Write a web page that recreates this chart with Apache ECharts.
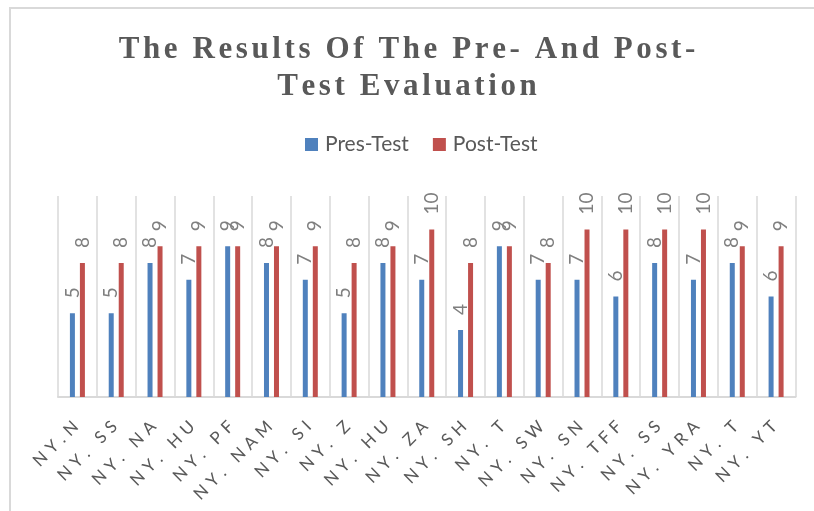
<!DOCTYPE html>
<html>
<head>
<meta charset="utf-8">
<script src="https://cdn.jsdelivr.net/npm/echarts@6/dist/echarts.min.js"></script>
<style>
  html, body { margin: 0; padding: 0; background: #fff; }
  #chart { width: 814px; height: 511px; }
</style>
</head>
<body>
<div id="chart"></div>
<script>
// data
const categories = ["NY.N", "NY. SS", "NY. NA", "NY. HU", "NY. PF", "NY. NAM", "NY. SI", "NY. Z", "NY. HU", "NY. ZA",
  "NY. SH", "NY. T", "NY. SW", "NY. SN", "NY. TFF", "NY. SS", "NY. YRA", "NY. T", "NY. YT"];
const preTest = [5, 5, 8, 7, 9, 8, 7, 5, 8, 7, 4, 9, 7, 7, 6, 8, 7, 8, 6];
const postTest = [8, 8, 9, 9, 9, 9, 9, 8, 9, 10, 8, 9, 8, 10, 10, 10, 10, 9, 9];
const seriesNames = ["Pres-Test", "Post-Test"];
const titleLines = ["The Results Of The Pre- And Post-", "Test Evaluation"];

// spaced-out letters like the Word chart, done with rich text per character
const spaced = (s, key) => s.split("").map((c) => "{" + key + "|" + c + "}").join("");

const chart = echarts.init(document.getElementById("chart"));

const labelOpt = {
  show: true,
  position: "top",
  distance: 15,
  rotate: 90,
  align: "left",
  verticalAlign: "middle",
  fontFamily: "Lato",
  fontSize: 19,
  color: "#7f7f7f",
};

chart.setOption({
  animation: false,
  title: {
    text: titleLines.map((l) => spaced(l, "t")).join("\n"),
    left: "center",
    top: 31,
    padding: [0, 0, 0, 18],
    textStyle: {
      rich: {
        t: {
          fontFamily: "Liberation Serif",
          fontWeight: "bold",
          fontSize: 31,
          lineHeight: 37,
          color: "#595959",
          padding: [0, 1.8],
        },
      },
    },
  },
  legend: {
    data: seriesNames,
    left: 300,
    top: 129,
    icon: "rect",
    itemWidth: 13,
    itemHeight: 13,
    itemGap: 24,
    textStyle: {
      fontFamily: "Lato",
      fontSize: 21,
      color: "#595959",
      padding: [0, 0, 0, 2],
    },
  },
  graphic: [
    {
      type: "rect",
      shape: { x: 10, y: 8, width: 900, height: 600 },
      style: { fill: "none", stroke: "#d9d9d9", lineWidth: 2 },
      silent: true,
    },
  ],
  grid: {
    left: 58,
    right: 18.5,
    top: 196,
    bottom: 114,
  },
  xAxis: {
    type: "category",
    data: categories,
    axisLine: { lineStyle: { color: "#d9d9d9", width: 2 } },
    axisTick: { show: false },
    splitLine: { show: true, lineStyle: { color: "#d9d9d9", width: 1.5 } },
    axisLabel: {
      interval: 0,
      rotate: 45,
      margin: 25,
      formatter: (v) => spaced(v, "c"),
      rich: {
        c: {
          fontFamily: "Lato",
          fontSize: 17,
          color: "#595959",
          padding: [0, 2.6],
        },
      },
    },
  },
  yAxis: {
    type: "value",
    min: 0,
    max: 12,
    show: false,
    splitLine: { show: false },
  },
  series: [
    {
      name: seriesNames[0],
      type: "bar",
      data: preTest,
      barWidth: 5,
      barGap: "100%",
      itemStyle: { color: "#4f81bd" },
      label: labelOpt,
    },
    {
      name: seriesNames[1],
      type: "bar",
      data: postTest,
      barWidth: 5,
      itemStyle: { color: "#c0504d" },
      label: labelOpt,
    },
  ],
});

window.addEventListener("resize", () => chart.resize());
</script>
</body>
</html>
